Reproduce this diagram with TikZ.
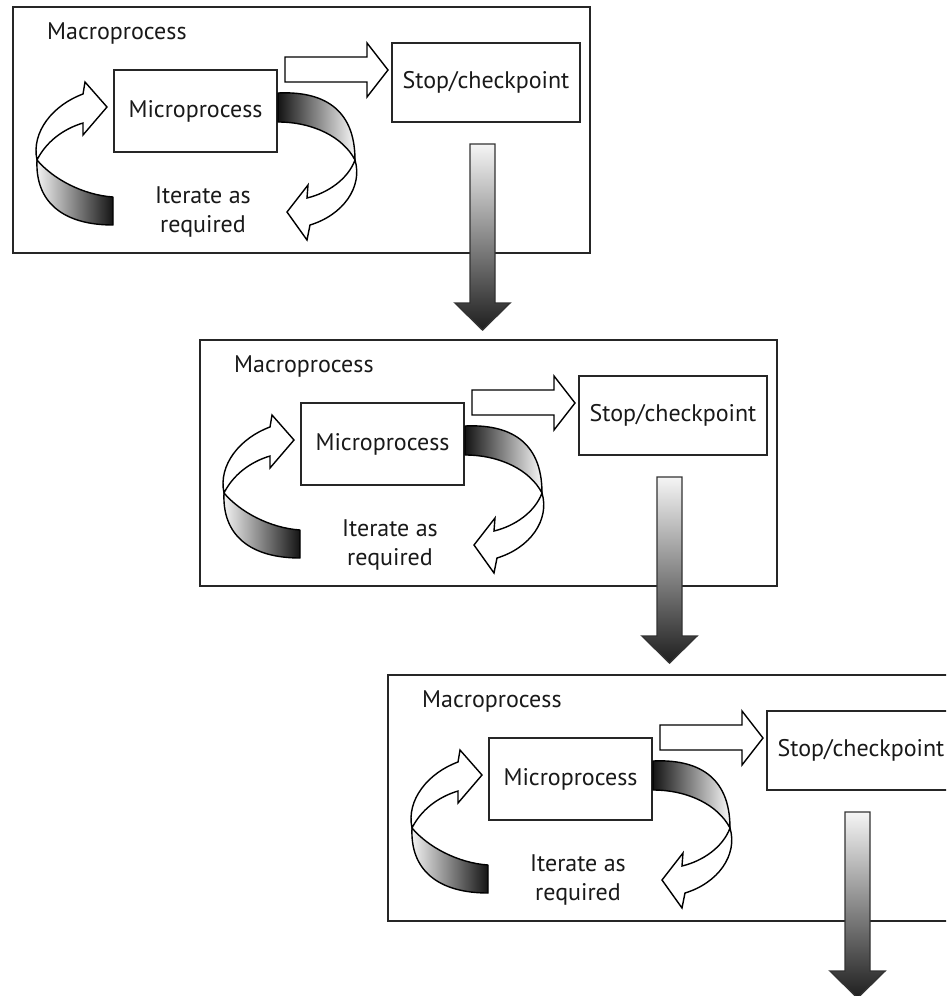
\documentclass[tikz,border=0pt]{standalone}
\usepackage{fontspec}
\setmainfont{PT Sans}
\tikzset{
  txt/.style={inner sep=0pt, font=\fontsize{24}{29}\selectfont, text=black!90},
  outerbox/.style={draw=black!85, line width=2pt, rectangle, inner sep=0pt},
  procbox/.style={draw=black!85, line width=1.8pt, fill=white, rectangle, inner sep=0pt, font=\fontsize{24}{29}\selectfont, text=black!90},
  hollow/.style={draw=black, line width=1.4pt, fill=white, line join=miter},
  band/.style={draw=black, line width=1.4pt, line join=round},
  downarrow/.style={draw=black!80, line width=1.4pt, top color=black!4, bottom color=black!88, line join=miter},
  block/.pic={
    \node[outerbox, minimum width=577, minimum height=246] (-macro) at (288.5,123) {};
    \node[txt, anchor=west] (-title) at (34,26) {Macroprocess};
    \node[procbox, minimum width=163, minimum height=82] (-micro) at (182.5,104) {Microprocess};
    \node[procbox, minimum width=188, minimum height=79] (-stop) at (473,75.5) {Stop/checkpoint};
    \node[txt, align=center] (-iter) at (190,204.5) {Iterate as\\required};
    % hollow arrow micro -> stop
    \draw[hollow] (272,50) -- (354,50) -- (354,36) -- (375,63) -- (354,90) -- (354,75) -- (272,75) -- cycle;
    % left ribbon (front face)
    \path[band, left color=black!3, right color=black!92]
      (24,153) .. controls (40,172) and (70,188) .. (100,190) -- (100,218)
      .. controls (50,218) and (22,195) .. (24,153) -- cycle;
    % left hollow arrow going up to the microprocess
    \draw[hollow] (24,153) .. controls (18,125) and (40,98) .. (70,87)
      -- (72,75) -- (94,100) -- (70,128) -- (70,116)
      .. controls (50,122) and (33,135) .. (24,153) -- cycle;
    % right ribbon
    \path[band, left color=black!92, right color=black!3]
      (265,86) .. controls (308,84) and (342,100) .. (342,153)
      .. controls (330,130) and (300,115) .. (265,115) -- cycle;
    % right hollow arrow going back down-left
    \draw[hollow] (342,153) .. controls (350,180) and (330,208) .. (297,218)
      -- (294,233) -- (274,205) -- (295,178) -- (294,191)
      .. controls (315,186) and (335,172) .. (342,153) -- cycle;
    % gradient arrow down to the next stage
    \path[downarrow] (457,137) -- (482,137) -- (482,296) -- (497,296)
      -- (469.5,323) -- (442,296) -- (457,296) -- cycle;
  }
}
\begin{document}
\begin{tikzpicture}[x=1pt,y=-1pt]
  \useasboundingbox (0,0) rectangle (946,996);
  \clip (0,0) rectangle (946,996);
  \fill[white] (0,0) rectangle (946,996);
  \pic (b1) at (13,7) {block};
  \pic (b2) at (200,340) {block};
  \pic (b3) at (388,675) {block};
\end{tikzpicture}
\end{document}
